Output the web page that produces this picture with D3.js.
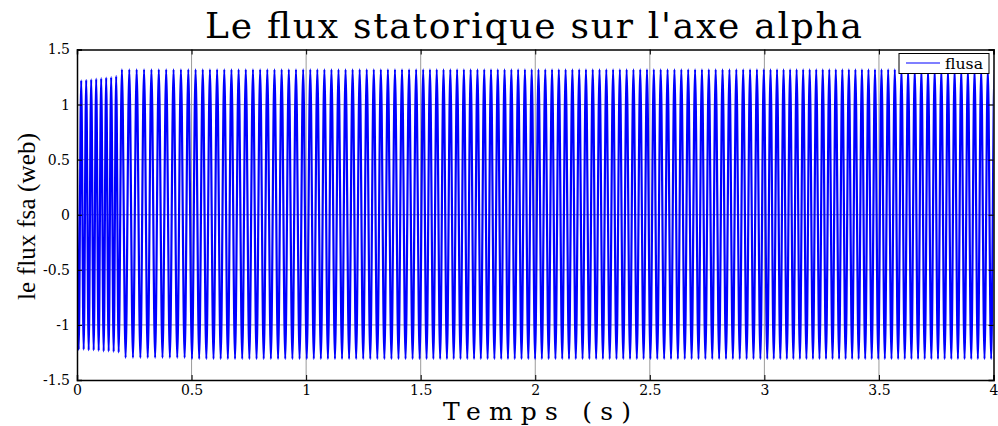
<!DOCTYPE html>
<html>
<head>
<meta charset="utf-8">
<script src="https://cdn.jsdelivr.net/npm/d3@7"></script>
<style>
  html, body { margin: 0; padding: 0; background: #fff; }
  svg { display: block; }
</style>
</head>
<body>
<script>
// Axis ticks
const xTicks = [0, 0.5, 1, 1.5, 2, 2.5, 3, 3.5, 4];
const xTickLabels = ["0", "0.5", "1", "1.5", "2", "2.5", "3", "3.5", "4"];
const yTicks = [-1.5, -1, -0.5, 0, 0.5, 1, 1.5];
const yTickLabels = ["-1.5", "-1", "-0.5", "0", "0.5", "1", "1.5"];

// Start-up transient of flusa (Wb): initial value, then alternating troughs / peaks
const startValue = 0.41;
const startupFirstTrough = 0.0074;   // s
const startupHalfPeriod = 0.0109;    // s
const startupTroughs = [-1.225, -1.225, -1.23, -1.23, -1.235, -1.24, -1.24, -1.245, -1.25];
const startupPeaks = [1.22, 1.225, 1.23, 1.235, 1.24, 1.245, 1.25, 1.26];

// Established regime, by time window: oscillation period (s) and extreme levels (Wb)
const windowStart  = [0.196, 0.5, 1.0, 1.5, 2.0, 2.5, 3.0, 3.5];
const windowPeriod = [0.0322, 0.0313, 0.0308, 0.0296, 0.0296, 0.0300, 0.0285, 0.0290];
const windowPeak   = [1.32, 1.32, 1.32, 1.32, 1.32, 1.32, 1.32, 1.32];
const windowTrough = [-1.30, -1.31, -1.31, -1.31, -1.31, -1.31, -1.31, -1.31];

const W = 998, H = 426;
const plotL = 77, plotR = 993.5, plotT = 49.5, plotB = 380;
const serif = "'DejaVu Serif', serif";
const times = "'Liberation Serif', 'Times New Roman', serif";

const svg = d3.select("body").append("svg")
  .attr("width", W).attr("height", H);

const x = d3.scaleLinear().domain([0, 4]).range([plotL, plotR]);
const y = d3.scaleLinear().domain([-1.5, 1.5]).range([plotB, plotT]);

// grid
const grid = svg.append("g").attr("stroke", "#9a9a9a").attr("stroke-width", 1);
grid.selectAll("line.gx").data(xTicks.slice(1, -1)).join("line")
  .attr("x1", d => x(d)).attr("x2", d => x(d))
  .attr("y1", plotT).attr("y2", plotB);
grid.selectAll("line.gy").data(yTicks.slice(1, -1)).join("line")
  .attr("x1", plotL).attr("x2", plotR)
  .attr("y1", d => y(d)).attr("y2", d => y(d));

// build the flux trace from its extremes
const pts = [[0, startValue]];
startupTroughs.forEach((v, k) => {
  pts.push([startupFirstTrough + 2 * k * startupHalfPeriod, v]);
  if (k < startupPeaks.length) pts.push([startupFirstTrough + (2 * k + 1) * startupHalfPeriod, startupPeaks[k]]);
});
let t = windowStart[0], up = true;
while (t < 4.05) {
  const w = Math.max(0, d3.bisectRight(windowStart, t) - 1);
  pts.push([t, up ? windowPeak[w] : windowTrough[w]]);
  t += windowPeriod[w] / 2;
  up = !up;
}

svg.append("clipPath").attr("id", "plotArea")
  .append("rect").attr("x", plotL).attr("y", plotT - 2)
  .attr("width", plotR - plotL).attr("height", plotB - plotT + 4);

// monotone curve keeps flat tangents at every extreme, giving rounded crests
const line = d3.line().x(d => x(d[0])).y(d => y(d[1])).curve(d3.curveMonotoneX);
svg.append("path")
  .datum(pts)
  .attr("clip-path", "url(#plotArea)")
  .attr("fill", "none")
  .attr("stroke", "#0000ff")
  .attr("stroke-width", 2.2)
  .attr("stroke-linejoin", "round")
  .attr("d", line);

// axes box with inward ticks on all four sides
const tickLen = 5;
const ax = svg.append("g");
ax.append("g").attr("transform", `translate(0,${plotB})`)
  .call(d3.axisBottom(x).tickValues(xTicks).tickSize(-tickLen).tickFormat((d, i) => xTickLabels[i]).tickPadding(5));
ax.append("g").attr("transform", `translate(0,${plotT})`)
  .call(d3.axisTop(x).tickValues(xTicks).tickSize(-tickLen).tickFormat(""));
ax.append("g").attr("transform", `translate(${plotL},0)`)
  .call(d3.axisLeft(y).tickValues(yTicks).tickSize(-tickLen).tickFormat((d, i) => yTickLabels[i]).tickPadding(7));
ax.append("g").attr("transform", `translate(${plotR},0)`)
  .call(d3.axisRight(y).tickValues(yTicks).tickSize(-tickLen).tickFormat(""));
ax.selectAll(".domain").attr("stroke", "#000").attr("stroke-width", 1.5);
ax.selectAll(".tick line").attr("stroke", "#000").attr("stroke-width", 1);
ax.selectAll("g").attr("font-family", serif);
ax.selectAll(".tick text")
  .style("font-family", serif)
  .style("font-size", "14px").attr("fill", "#000");

// legend
const lg = svg.append("g");
lg.append("rect").attr("x", 899).attr("y", 53.5).attr("width", 90).attr("height", 20)
  .attr("fill", "#fff").attr("stroke", "#000").attr("stroke-width", 1);
lg.append("line").attr("x1", 906).attr("x2", 940).attr("y1", 63).attr("y2", 63)
  .attr("stroke", "#0000ff").attr("stroke-width", 1.2);
lg.append("text").attr("x", 945).attr("y", 68.5)
  .style("font-family", serif).style("font-size", "15px")
  .attr("textLength", 38).attr("lengthAdjust", "spacingAndGlyphs")
  .text("flusa");

// title and axis labels
svg.append("text").attr("x", 205).attr("y", 38)
  .style("font-family", serif).style("font-size", "36px")
  .attr("textLength", 657).attr("lengthAdjust", "spacing")
  .text("Le flux statorique sur l'axe alpha");
svg.append("text").attr("x", 443).attr("y", 420)
  .style("font-family", serif).style("font-size", "25px")
  .attr("textLength", 188).attr("lengthAdjust", "spacing")
  .text("Temps (s)");
svg.append("text")
  .attr("transform", "translate(35,300) rotate(-90)")
  .style("font-family", times).style("font-size", "25px")
  .attr("textLength", 167).attr("lengthAdjust", "spacing")
  .text("le flux fsa (web)");
</script>
</body>
</html>
